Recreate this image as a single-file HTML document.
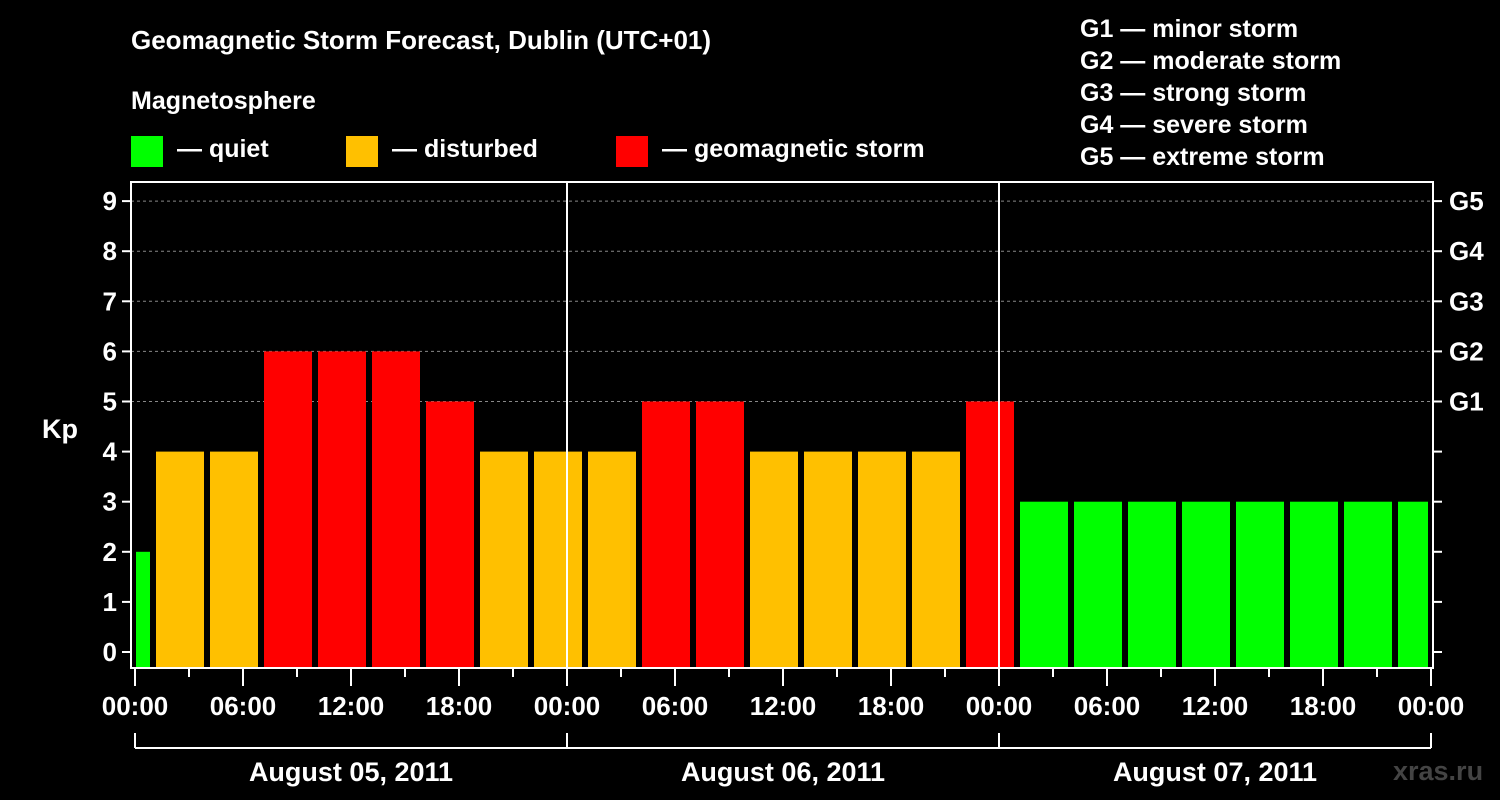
<!DOCTYPE html>
<html><head><meta charset="utf-8"><style>
body{margin:0;background:#000;}
svg{display:block;font-family:"Liberation Sans",Arial,sans-serif;font-weight:bold;}
</style></head><body>
<svg width="1500" height="800" viewBox="0 0 1500 800" xmlns="http://www.w3.org/2000/svg">
<rect width="1500" height="800" fill="#000"/>
<text x="131" y="49" fill="#fff" font-size="26">Geomagnetic Storm Forecast, Dublin (UTC+01)</text>
<text x="131" y="109" fill="#fff" font-size="25">Magnetosphere</text>
<g>
<rect x="131" y="136" width="32" height="31" fill="#00ff00"/>
<text x="177" y="157" fill="#fff" font-size="25">— quiet</text>
<rect x="346" y="136" width="32" height="31" fill="#ffc000"/>
<text x="392" y="157" fill="#fff" font-size="25">— disturbed</text>
<rect x="616" y="136" width="32" height="31" fill="#ff0000"/>
<text x="662" y="157" fill="#fff" font-size="25">— geomagnetic storm</text>
</g>
<g fill="#fff" font-size="25">
<text x="1080" y="37">G1 — minor storm</text>
<text x="1080" y="69">G2 — moderate storm</text>
<text x="1080" y="101">G3 — strong storm</text>
<text x="1080" y="133">G4 — severe storm</text>
<text x="1080" y="165">G5 — extreme storm</text>
</g>
<text x="42" y="438" fill="#fff" font-size="27">Kp</text>
<g id="grid"></g>
<g id="bars"></g>
<g id="axes"></g>
<text x="1393" y="780" fill="#444" font-size="27">xras.ru</text>
</svg>
<script>
const kpValues=[2,4,4,6,6,6,5,4,4,4,5,5,4,4,4,4,5,3,3,3,3,3,3,3,3];
const yTicks=[0,1,2,3,4,5,6,7,8,9];
const gLabels=[[5,"G1"],[6,"G2"],[7,"G3"],[8,"G4"],[9,"G5"]];
const xTickLabels=["00:00","06:00","12:00","18:00","00:00","06:00","12:00","18:00","00:00","06:00","12:00","18:00","00:00"];
const dayLabels=["August 05, 2011","August 06, 2011","August 07, 2011"];
const firstBarStartHour=-2;
const NS="http://www.w3.org/2000/svg";
const X0=135,PXH=18,L=131,R=1433,T=182,B=668;
const xs=h=>X0+h*PXH;
const ys=v=>652-v*50.1;
function mk(tag,attrs,parent,txt){const e=document.createElementNS(NS,tag);for(const k in attrs)e.setAttribute(k,attrs[k]);if(txt!==undefined)e.textContent=txt;document.getElementById(parent).appendChild(e);return e;}
// grid
yTicks.forEach(v=>{if(v>=5){const g=mk('line',{x1:L,x2:R,y1:ys(v),y2:ys(v),stroke:'#888','stroke-dasharray':'3,3','stroke-width':1},'grid');}});
// bars
kpValues.forEach((v,i)=>{let a=xs(firstBarStartHour+i*3)+3,b=a+48;a=Math.max(a,L+5);b=Math.min(b,R-5);
const c=v>=5?'#ff0000':(v>=4?'#ffc000':'#00ff00');
const r=mk('rect',{x:a,y:ys(v),width:b-a,height:B-1-ys(v),fill:c},'bars');

});
// day dividers
[1,2].forEach(d=>{const l=mk('line',{x1:xs(d*24),x2:xs(d*24),y1:T,y2:B,stroke:'#fff','stroke-width':2},'axes');});
// frame
const f=mk('rect',{x:L,y:T,width:R-L,height:B-T,fill:'none',stroke:'#fff','stroke-width':2},'axes');

// y ticks
yTicks.forEach(v=>{mk('line',{x1:L-9,x2:L,y1:ys(v),y2:ys(v),stroke:'#fff','stroke-width':2},'axes');mk('line',{x1:R,x2:R+9,y1:ys(v),y2:ys(v),stroke:'#fff','stroke-width':2},'axes');
const t=mk('text',{x:L-14,y:ys(v)+9,fill:'#fff','font-size':26,'text-anchor':'end'},'axes',String(v));});
gLabels.forEach(g=>{const t=mk('text',{x:R+16,y:ys(g[0])+9,fill:'#fff','font-size':26},'axes',g[1]);});
// x ticks
for(let h=0;h<=72;h+=3){const long=h%6===0;mk('line',{x1:xs(h),x2:xs(h),y1:B,y2:B+(long?18:9),stroke:'#fff','stroke-width':2},'axes');}
xTickLabels.forEach((s,i)=>{const t=mk('text',{x:xs(i*6),y:715,fill:'#fff','font-size':26,'text-anchor':'middle'},'axes',s);});
// day bracket
mk('line',{x1:xs(0),x2:xs(72),y1:748,y2:748,stroke:'#fff','stroke-width':2},'axes');
for(let d=0;d<=3;d++)mk('line',{x1:xs(d*24),x2:xs(d*24),y1:733,y2:748,stroke:'#fff','stroke-width':2},'axes');
dayLabels.forEach((s,i)=>{const t=mk('text',{x:xs(i*24+12),y:781,fill:'#fff','font-size':27,'text-anchor':'middle'},'axes',s);});
</script>
</body></html>
